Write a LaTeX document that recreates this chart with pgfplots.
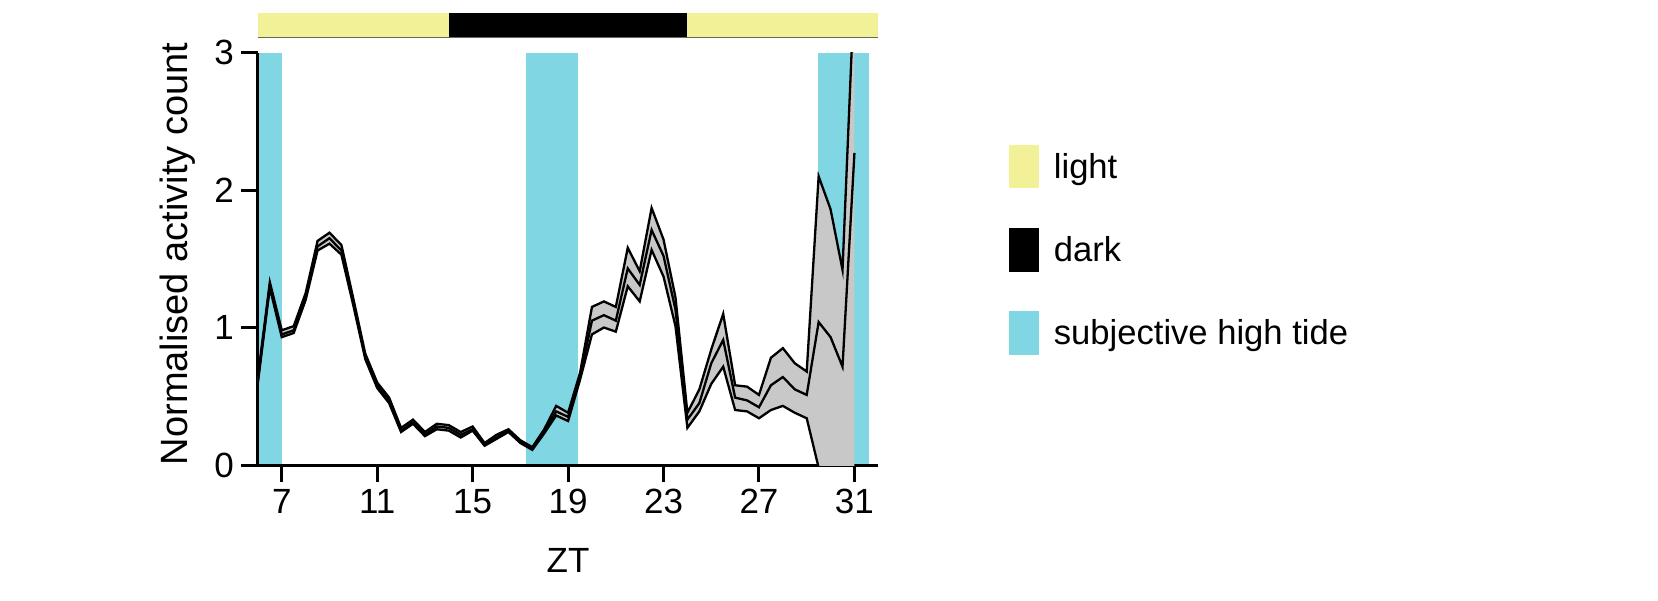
\documentclass[border=0pt]{standalone}
\usepackage{fontspec}
\setmainfont{Liberation Sans}
\usepackage{pgfplots}
\pgfplotsset{compat=1.18}
\usepackage{pgfplotstable}
\usepgfplotslibrary{fillbetween}

\definecolor{tide}{RGB}{128,214,227}
\definecolor{lightc}{RGB}{242,241,152}
\definecolor{band}{RGB}{200,200,200}

% ZT, mean, lower and upper edge of the shaded band
\pgfplotstableread{
zt   mean  lo    up
6.0  0.62  0.60  0.64
6.5  1.31  1.29  1.33
7.0  0.95  0.93  0.98
7.5  0.98  0.96  1.01
8.0  1.22  1.20  1.25
8.5  1.59  1.56  1.63
9.0  1.65  1.61  1.69
9.5  1.56  1.53  1.60
10.0 1.18  1.16  1.21
10.5 0.79  0.77  0.81
11.0 0.58  0.56  0.60
11.5 0.47  0.45  0.49
12.0 0.25  0.24  0.27
12.5 0.31  0.30  0.33
13.0 0.22  0.21  0.24
13.5 0.28  0.26  0.30
14.0 0.27  0.25  0.29
14.5 0.22  0.20  0.24
15.0 0.26  0.25  0.28
15.5 0.15  0.14  0.16
16.0 0.20  0.19  0.22
16.5 0.25  0.24  0.26
17.0 0.17  0.16  0.18
17.5 0.12  0.11  0.13
18.0 0.24  0.23  0.26
18.5 0.39  0.36  0.43
19.0 0.35  0.32  0.38
19.5 0.64  0.62  0.67
20.0 1.05  0.95  1.15
20.5 1.09  1.00  1.19
21.0 1.05  0.97  1.15
21.5 1.43  1.30  1.58
22.0 1.31  1.19  1.41
22.5 1.71  1.565 1.87
23.0 1.52  1.37  1.64
23.5 1.13  1.01  1.22
24.0 0.33  0.27  0.38
24.5 0.45  0.39  0.55
25.0 0.74  0.59  0.84
25.5 0.91  0.715 1.10
26.0 0.49  0.40  0.58
26.5 0.47  0.39  0.57
27.0 0.42  0.34  0.51
27.5 0.58  0.40  0.78
28.0 0.64  0.43  0.85
28.5 0.55  0.38  0.74
29.0 0.51  0.34  0.68
29.5 1.04  -0.02 2.10
30.0 0.93  -0.5  1.86
30.5 0.715 -1.0  1.42
31.0 2.27  -2.0  3.5
}\activity

\begin{document}
\begin{tikzpicture}

% light / dark bar above the plot
\begin{axis}[
  at={(0pt,213.5pt)}, anchor=south west,
  scale only axis, width=310.2pt, height=12.65pt,
  xmin=6, xmax=32, ymin=0, ymax=1,
  hide axis,
]
\addplot[fill=lightc, draw=none] coordinates {(6,1) (14,1)} \closedcycle;
\addplot[fill=black, draw=none] coordinates {(14,1) (24,1)} \closedcycle;
\addplot[fill=lightc, draw=none] coordinates {(24,1) (32,1)} \closedcycle;
\addplot[black!60, line width=0.5pt] coordinates {(6,0) (32,0)};
\end{axis}

\begin{axis}[
  at={(0pt,0pt)}, anchor=south west,
  scale only axis, width=310.2pt, height=206.2pt,
  xmin=6, xmax=32, ymin=0, ymax=3,
  set layers,
  axis x line*=bottom, axis y line*=left,
  axis line style={line width=1.5pt, black},
  xtick={7,11,...,31}, ytick={0,1,2,3},
  tick align=outside, major tick length=8.5pt,
  tick style={line width=1.5pt, black},
  /pgf/number format/assume math mode=true,
  ticklabel style={font=\fontsize{17.5}{20}\selectfont},
  xlabel={ZT},
  xlabel style={at={(axis description cs:0.5,0)}, anchor=base, yshift=-53.85pt,
    inner sep=0pt, font=\fontsize{17.5}{20}\selectfont},
  ylabel={Normalised activity count},
  ylabel style={at={(axis description cs:-0.0998,0.512)}, anchor=south,
    inner sep=0pt, font=\fontsize{19}{22}\selectfont},
  legend style={at={(1.2108,0.776)}, anchor=north west, draw=none, fill=none,
    inner sep=0pt, outer sep=0pt, row sep=20pt,
    nodes={inner sep=0pt, anchor=base west},
    font=\fontsize{17.3}{20}\selectfont,
    /tikz/every odd column/.style={column sep=7.7pt}},
  legend cell align=left,
]
% subjective high tide
\addplot[fill=tide, draw=none, forget plot, on layer=axis background] coordinates {(6,3) (7,3)} \closedcycle;
\addplot[fill=tide, draw=none, forget plot, on layer=axis background] coordinates {(17.24,3) (19.4,3)} \closedcycle;
\addplot[fill=tide, draw=none, forget plot, on layer=axis background] coordinates {(29.48,3) (31.62,3)} \closedcycle;

\addplot[draw=none, name path=up, forget plot] table[x=zt, y=up] {\activity};
\addplot[draw=none, name path=lo, forget plot] table[x=zt, y=lo] {\activity};
\addplot[band, forget plot] fill between[of=up and lo];

\addplot[black, line width=1.15pt, forget plot] table[x=zt, y=up] {\activity};
\addplot[black, line width=1.15pt, forget plot] table[x=zt, y=lo] {\activity};
\addplot[black, line width=1.15pt, forget plot] table[x=zt, y=mean] {\activity};

\addlegendimage{legend image code/.code={\fill[lightc] (0pt,-4.6pt) rectangle (14.3pt,16.6pt);}}
\addlegendentry{light}
\addlegendimage{legend image code/.code={\fill[black] (0pt,-4.6pt) rectangle (14.3pt,16.6pt);}}
\addlegendentry{dark}
\addlegendimage{legend image code/.code={\fill[tide] (0pt,-4.6pt) rectangle (14.3pt,16.6pt);}}
\addlegendentry{subjective high tide}
\end{axis}

% fixes the page to the reference's proportions
\path (-128.95pt,-67.5pt) rectangle (700.05pt,232.5pt);
\end{tikzpicture}
\end{document}
